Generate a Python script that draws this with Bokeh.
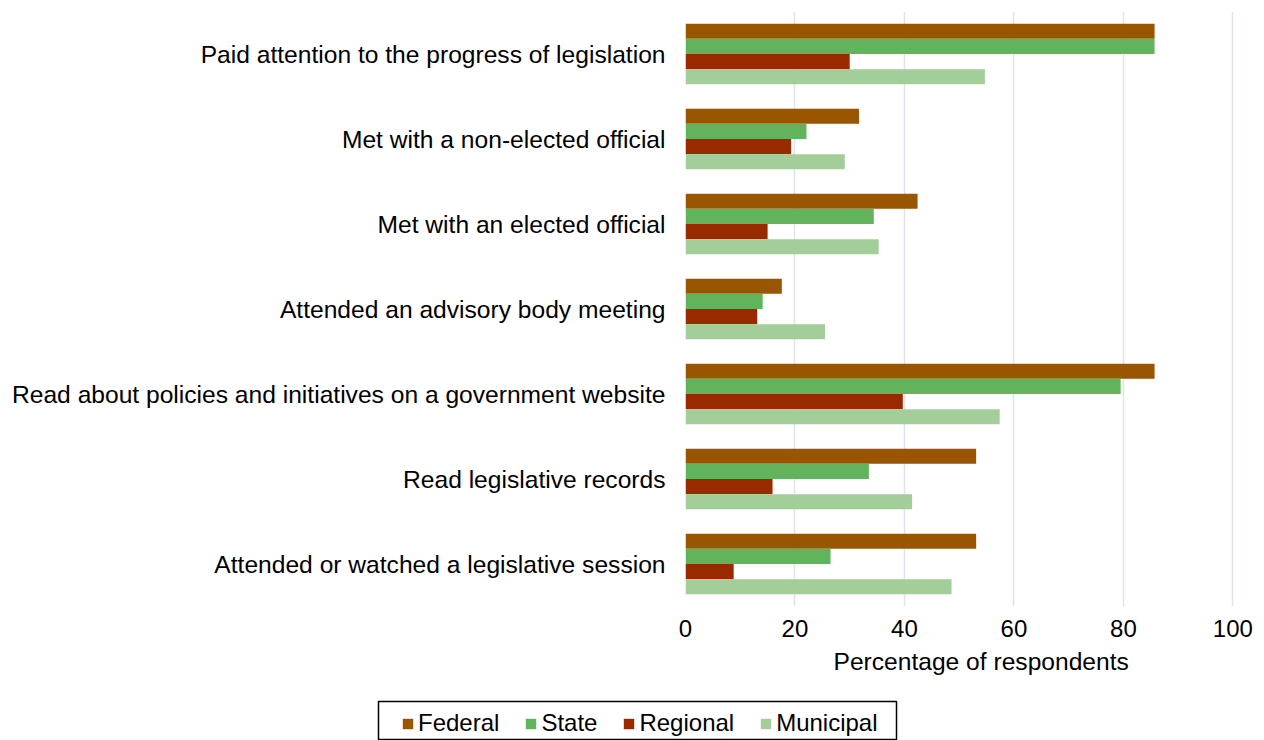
from bokeh.plotting import figure
from bokeh.models import (FactorRange, Legend, LegendItem, FixedTicker, Title,
                          ColumnDataSource, Range1d)
from bokeh.layouts import column, row
from bokeh.transform import dodge
from bokeh.embed import file_html
from bokeh.resources import INLINE

categories = [
    "Paid attention to the progress of legislation",
    "Met with a non-elected official",
    "Met with an elected official",
    "Attended an advisory body meeting",
    "Read about policies and initiatives on a government website",
    "Read legislative records",
    "Attended or watched a legislative session",
]
series_names = ["Federal", "State", "Regional", "Municipal"]
federal = [85.7, 31.7, 42.4, 17.6, 85.7, 53.1, 53.1]
state = [85.7, 22.1, 34.4, 14.1, 79.5, 33.5, 26.5]
regional = [30.0, 19.3, 15.0, 13.1, 39.7, 15.9, 8.8]
municipal = [54.7, 29.1, 35.3, 25.5, 57.4, 41.4, 48.6]
x_ticks = [0, 20, 40, 60, 80, 100]
x_title = "Percentage of respondents"

colors = ["#9a5500", "#62b35b", "#992a00", "#a3cd99"]
FONT = "Liberation Sans"

src = ColumnDataSource(dict(cat=categories, Federal=federal, State=state,
                            Regional=regional, Municipal=municipal))

p = figure(width=1264, height=700,
           y_range=FactorRange(factors=categories[::-1]),
           x_range=Range1d(0, 100.3),
           output_backend="svg", toolbar_location=None,
           min_border_left=685, min_border_right=30,
           min_border_top=11, min_border_bottom=94)

offsets = [0.267, 0.089, -0.089, -0.267]
for name, off, col in zip(series_names, offsets, colors):
    p.hbar(y=dodge("cat", off, range=p.y_range), left=0, right=name,
           height=0.178, source=src, fill_color=col, line_color=None)

p.outline_line_color = None
p.background_fill_color = "white"
p.xgrid.grid_line_color = "#dfe3eb"
p.xgrid.grid_line_width = 1.5
p.ygrid.grid_line_color = None

xa = p.xaxis[0]
xa.ticker = FixedTicker(ticks=x_ticks)
xa.axis_line_color = None
xa.major_tick_line_color = None
xa.minor_tick_line_color = None
xa.major_label_text_font = FONT
xa.major_label_text_font_size = "24px"
xa.major_label_text_color = "black"
xa.major_label_standoff = 7

ya = p.yaxis[0]
ya.axis_line_color = None
ya.major_tick_line_color = None
ya.minor_tick_line_color = None
ya.major_label_text_font = FONT
ya.major_label_text_font_size = "24.6px"
ya.major_label_text_color = "black"
ya.major_label_standoff = 14

p.add_layout(Title(text=x_title, align="left", offset=148, text_font=FONT,
                   text_font_size="24.6px", text_font_style="normal",
                   text_color="black", standoff=13), "below")

# legend strip: its frame outline is the legend box
lg = figure(width=1264, height=40, output_backend="svg", toolbar_location=None,
            x_axis_type=None, y_axis_type=None,
            min_border_left=378, min_border_right=368,
            min_border_top=1, min_border_bottom=0,
            x_range=Range1d(0, 1), y_range=Range1d(0, 1))
lg.xgrid.grid_line_color = None
lg.ygrid.grid_line_color = None
lg.outline_line_color = "black"
lg.outline_line_width = 1.5
items = []
for name, col in zip(series_names, colors):
    # zero-size stand-in glyphs, only used to draw the legend swatches
    r = lg.hbar(y=0.5, left=0, right=0, height=0, source=src,
                fill_color=col, line_color=None)
    items.append(LegendItem(label=name, renderers=[r]))
legend = Legend(items=items, orientation="horizontal", location=(23, 3),
                border_line_color=None, background_fill_alpha=0,
                padding=0, margin=0, spacing=25, glyph_width=13, glyph_height=13,
                label_standoff=4, label_text_font=FONT, label_text_font_size="24px",
                label_text_color="black")
lg.add_layout(legend, "center")

layout = column(column(p), row(lg), spacing=0)
open("out.html", "w").write(file_html(layout, INLINE))
